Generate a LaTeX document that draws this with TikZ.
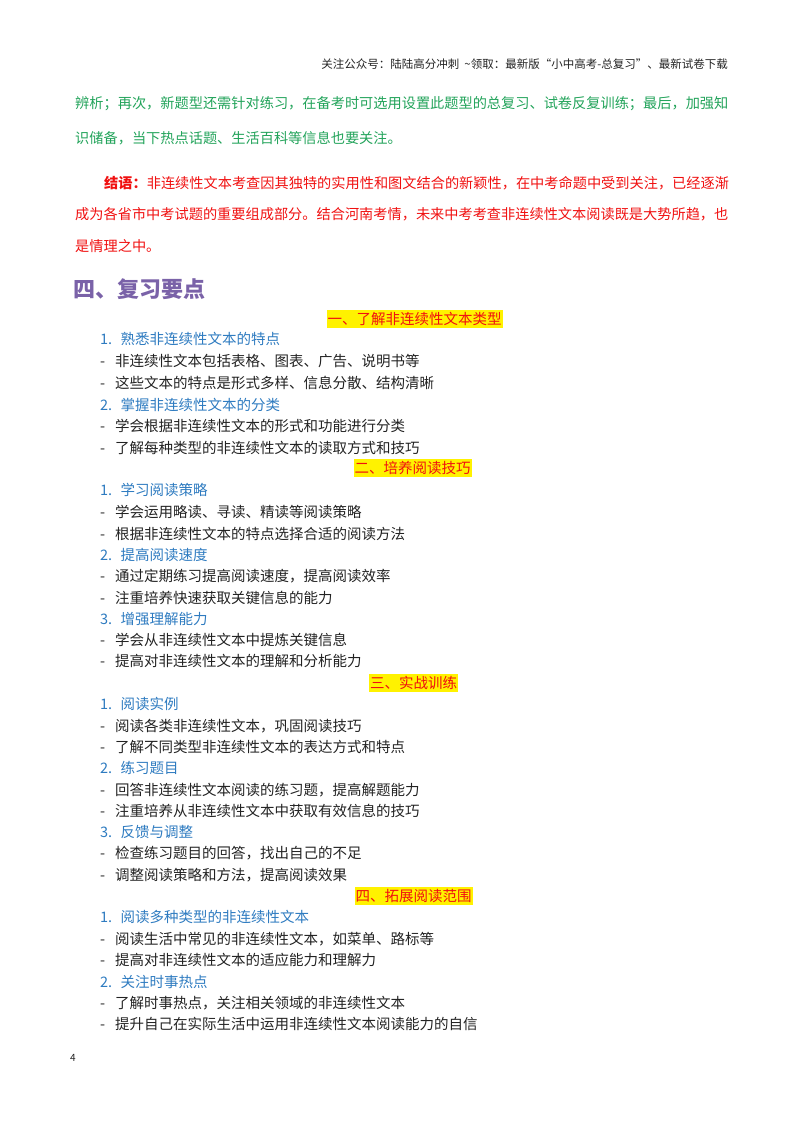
\documentclass[tikz,border=0pt]{standalone}
\usepackage{fontspec}
\setmainfont{Noto Sans CJK SC}
\definecolor{gr}{HTML}{22A35A}
\definecolor{rd}{HTML}{F01010}
\definecolor{pu}{HTML}{7A62A8}
\definecolor{bl}{HTML}{2E7BC0}
\definecolor{tx}{HTML}{222222}
\newcommand{\dsh}{\makebox[15pt][l]{-}}
\newcommand{\num}[1]{\makebox[20.5pt][l]{#1.}}
\begin{document}
\begin{tikzpicture}[x=1pt,y=-1pt,
  every node/.style={inner sep=0pt,anchor=west},
  body/.style={font=\fontsize{14.5}{16}\selectfont,text=tx},
  para/.style={font=\fontsize{14.2}{16}\selectfont},
  sub/.style={font=\fontsize{14.5}{16}\selectfont,text=bl},
  sec/.style={font=\fontsize{14.5}{16}\selectfont,text=rd,fill=yellow,inner xsep=1pt,inner ysep=2pt,anchor=center}]
\useasboundingbox (0,0) rectangle (800,1132);
\node[anchor=east,font=\fontsize{11.5}{12}\selectfont,text=tx] (hdr) at (728,64) {关注公众号：陆陆高分冲刺\ \ \textasciitilde 领取：最新版“小中高考-总复习”、最新试卷下载};
\node[para,text=gr] (g1) at (75,104) {辨析；再次，新题型还需针对练习，在备考时可选用设置此题型的总复习、试卷反复训练；最后，加强知};
\node[para,text=gr] (g2) at (75,138) {识储备，当下热点话题、生活百科等信息也要关注。};
\node[para,text=rd] (r1) at (104,183) {\textbf{结语：}非连续性文本考查因其独特的实用性和图文结合的新颖性，在中考命题中受到关注，已经逐渐};
\node[para,text=rd] (r2) at (75,214) {成为各省市中考试题的重要组成部分。结合河南考情，未来中考考查非连续性文本阅读既是大势所趋，也};
\node[para,text=rd] (r3) at (75,246) {是情理之中。};
\node[font=\fontsize{22}{24}\selectfont\bfseries,text=pu] (h4) at (73,289) {四、复习要点};
\node[sec] (s1) at (414.5,319) {一、了解非连续性文本类型};
\node[sub] (a1) at (100,339) {\num{1}熟悉非连续性文本的特点};
\node[body] (a2) at (100,361) {\dsh 非连续性文本包括表格、图表、广告、说明书等};
\node[body] (a3) at (100,383) {\dsh 这些文本的特点是形式多样、信息分散、结构清晰};
\node[sub] (a4) at (100,405) {\num{2}掌握非连续性文本的分类};
\node[body] (a5) at (100,426) {\dsh 学会根据非连续性文本的形式和功能进行分类};
\node[body] (a6) at (100,448) {\dsh 了解每种类型的非连续性文本的读取方式和技巧};
\node[sec] (s2) at (412.5,468) {二、培养阅读技巧};
\node[sub] (b1) at (100,490) {\num{1}学习阅读策略};
\node[body] (b2) at (100,512) {\dsh 学会运用略读、寻读、精读等阅读策略};
\node[body] (b3) at (100,534) {\dsh 根据非连续性文本的特点选择合适的阅读方法};
\node[sub] (b4) at (100,555) {\num{2}提高阅读速度};
\node[body] (b5) at (100,576) {\dsh 通过定期练习提高阅读速度，提高阅读效率};
\node[body] (b6) at (100,598) {\dsh 注重培养快速获取关键信息的能力};
\node[sub] (b7) at (100,619) {\num{3}增强理解能力};
\node[body] (b8) at (100,640) {\dsh 学会从非连续性文本中提炼关键信息};
\node[body] (b9) at (100,661) {\dsh 提高对非连续性文本的理解和分析能力};
\node[sec] (s3) at (413.5,683) {三、实战训练};
\node[sub] (c1) at (100,704) {\num{1}阅读实例};
\node[body] (c2) at (100,726) {\dsh 阅读各类非连续性文本，巩固阅读技巧};
\node[body] (c3) at (100,747) {\dsh 了解不同类型非连续性文本的表达方式和特点};
\node[sub] (c4) at (100,768) {\num{2}练习题目};
\node[body] (c5) at (100,790) {\dsh 回答非连续性文本阅读的练习题，提高解题能力};
\node[body] (c6) at (100,811) {\dsh 注重培养从非连续性文本中获取有效信息的技巧};
\node[sub] (c7) at (100,832) {\num{3}反馈与调整};
\node[body] (c8) at (100,853) {\dsh 检查练习题目的回答，找出自己的不足};
\node[body] (c9) at (100,875) {\dsh 调整阅读策略和方法，提高阅读效果};
\node[sec] (s4) at (413.5,896) {四、拓展阅读范围};
\node[sub] (d1) at (100,917) {\num{1}阅读多种类型的非连续性文本};
\node[body] (d2) at (100,939) {\dsh 阅读生活中常见的非连续性文本，如菜单、路标等};
\node[body] (d3) at (100,960) {\dsh 提高对非连续性文本的适应能力和理解力};
\node[sub] (d4) at (100,982) {\num{2}关注时事热点};
\node[body] (d5) at (100,1003) {\dsh 了解时事热点，关注相关领域的非连续性文本};
\node[body] (d6) at (100,1024) {\dsh 提升自己在实际生活中运用非连续性文本阅读能力的自信};
\node[font=\fontsize{10}{12}\selectfont,text=tx] (pg) at (70,1058) {4};
\end{tikzpicture}
\end{document}
